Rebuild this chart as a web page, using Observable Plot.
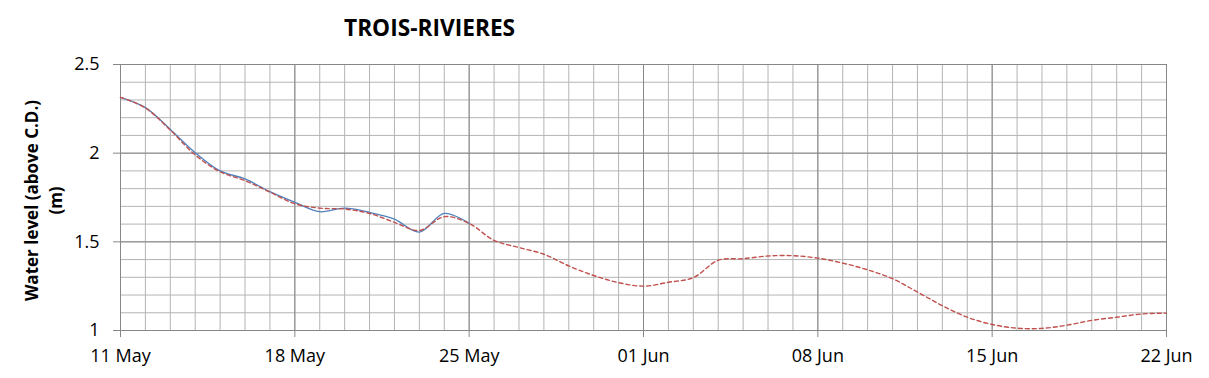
<!DOCTYPE html>
<html>
<head>
<meta charset="utf-8">
<script src="https://cdn.jsdelivr.net/npm/d3@7"></script>
<script src="https://cdn.jsdelivr.net/npm/@observablehq/plot@0.6"></script>
<style>
  body { margin: 0; background: #fff; }
  #title { height: 50px; position: relative; font-family: "Open Sans", sans-serif; font-weight: bold; font-size: 22.7px; line-height: 30px; }
  #title span { position: absolute; left: 344px; top: 13px; }
</style>
</head>
<body>
<div id="title"><span>TROIS-RIVIERES</span></div>
<div id="chart"></div>
<script>
const dates = [
  "2019-05-11","2019-05-12","2019-05-13","2019-05-14","2019-05-15","2019-05-16","2019-05-17",
  "2019-05-18","2019-05-19","2019-05-20","2019-05-21","2019-05-22","2019-05-23","2019-05-24",
  "2019-05-25","2019-05-26","2019-05-27","2019-05-28","2019-05-29","2019-05-30","2019-05-31",
  "2019-06-01","2019-06-02","2019-06-03","2019-06-04","2019-06-05","2019-06-06","2019-06-07",
  "2019-06-08","2019-06-09","2019-06-10","2019-06-11","2019-06-12","2019-06-13","2019-06-14",
  "2019-06-15","2019-06-16","2019-06-17","2019-06-18","2019-06-19","2019-06-20","2019-06-21",
  "2019-06-22"
];
const predicted = [
  2.315, 2.255, 2.13, 1.99, 1.895, 1.845, 1.78,
  1.715, 1.69, 1.685, 1.66, 1.61, 1.564, 1.642,
  1.604, 1.508, 1.468, 1.43, 1.364, 1.31, 1.27,
  1.25, 1.272, 1.298, 1.396, 1.405, 1.42, 1.422,
  1.408, 1.38, 1.342, 1.292, 1.217, 1.14, 1.075,
  1.034, 1.013, 1.012, 1.03, 1.057, 1.075, 1.093,
  1.098
];
const observed = [
  2.315, 2.257, 2.134, 2.003, 1.9, 1.855, 1.783,
  1.723, 1.67, 1.69, 1.666, 1.628, 1.555, 1.66,
  1.604
];
const xTickLabels = ["11 May","18 May","25 May","01 Jun","08 Jun","15 Jun","22 Jun"];
const yTickValues = [1, 1.5, 2, 2.5];

const parse = d3.utcParse("%Y-%m-%d");
const predData = dates.map((d, i) => ({date: parse(d), value: predicted[i]}));
const obsData = observed.map((v, i) => ({date: parse(dates[i]), value: v}));
const weekly = dates.filter((d, i) => i % 7 === 0).map(parse);
const fmt = d3.utcFormat("%d %b");

const minorY = d3.range(10, 26).map(v => v / 10);

const chart = Plot.plot({
  width: 1209,
  height: 328,
  marginLeft: 120,
  marginRight: 43,
  marginTop: 14,
  marginBottom: 48,
  style: {fontFamily: "'Open Sans', sans-serif", fontSize: "18px", color: "#000", background: "#fff", overflow: "visible"},
  x: {type: "utc", domain: [parse(dates[0]), parse(dates[dates.length - 1])]},
  y: {domain: [1, 2.5]},
  marks: [
    Plot.gridX(predData.map(d => d.date), {stroke: "#b4b4b4", strokeOpacity: 1, strokeWidth: 1}),
    Plot.gridY(minorY, {stroke: "#b4b4b4", strokeOpacity: 1, strokeWidth: 1}),
    Plot.gridX(weekly, {stroke: "#878787", strokeOpacity: 1, strokeWidth: 1}),
    Plot.gridY(yTickValues, {stroke: "#878787", strokeOpacity: 1, strokeWidth: 1}),
    Plot.axisX(weekly, {tickSize: 7, tickPadding: 12, stroke: "#878787", tickFormat: (d, i) => xTickLabels[i] ?? fmt(d), fontSize: 18, fill: "#000"}),
    Plot.axisY(yTickValues, {tickSize: 7, tickPadding: 14, stroke: "#878787", tickFormat: d => String(d), fontSize: 18, fill: "#000", label: null}),
    Plot.line(obsData, {x: "date", y: "value", stroke: "#4f81bd", strokeWidth: 1.3, curve: "catmull-rom"}),
    Plot.line(predData, {x: "date", y: "value", stroke: "#c0504d", strokeWidth: 1.4, strokeDasharray: "4,3", curve: "catmull-rom"}),
    Plot.text(["Water level (above C.D.)"], {frameAnchor: "left", textAnchor: "middle", dx: -88, dy: 3, rotate: -90, fontWeight: "bold", fontSize: 17, fill: "#000"}),
    Plot.text(["(m)"], {frameAnchor: "left", textAnchor: "middle", dx: -64, dy: 3, rotate: -90, fontWeight: "bold", fontSize: 17, fill: "#000"})
  ]
});
document.getElementById("chart").appendChild(chart);
</script>
</body>
</html>
